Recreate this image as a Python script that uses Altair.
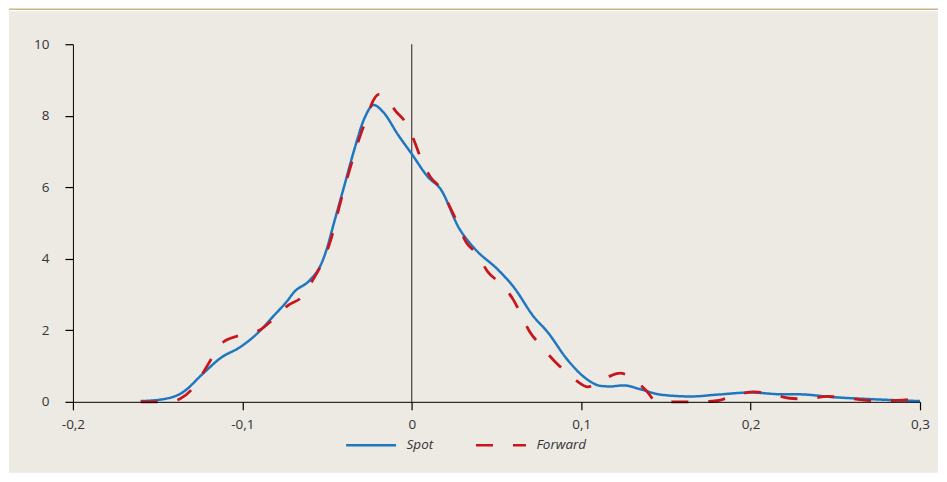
import altair as alt
import pandas as pd

# ---- data ----
series = ["Spot", "Forward"]

spot_x = [-0.160, -0.146, -0.136, -0.123, -0.113, -0.101, -0.091, -0.081, -0.073, -0.070,
          -0.060, -0.054, -0.050, -0.046, -0.040, -0.034, -0.028, -0.0225, -0.017, -0.008,
          0.0, 0.0095, 0.017, 0.028, 0.037, 0.051, 0.060, 0.072, 0.080, 0.092,
          0.104, 0.111, 0.117, 0.125, 0.135, 0.147, 0.165, 0.180, 0.200, 0.219,
          0.228, 0.249, 0.278, 0.300]
spot_y = [0.02, 0.08, 0.24, 0.80, 1.22, 1.54, 1.92, 2.43, 2.85, 3.04,
          3.41, 3.80, 4.30, 4.99, 6.01, 7.04, 7.92, 8.30, 8.11, 7.46,
          6.93, 6.29, 5.95, 4.85, 4.29, 3.69, 3.22, 2.38, 1.96, 1.17,
          0.61, 0.45, 0.43, 0.46, 0.35, 0.20, 0.15, 0.20, 0.26, 0.21,
          0.21, 0.13, 0.06, 0.02]

fwd_x = [-0.160, -0.148, -0.141, -0.137, -0.130, -0.123, -0.118, -0.111, -0.102, -0.095,
         -0.090, -0.082, -0.073, -0.065, -0.058, -0.054, -0.048, -0.042, -0.036, -0.030,
         -0.0265, -0.023, -0.0195, -0.016, -0.0095, -0.0035, 0.002, 0.005, 0.011, 0.017,
         0.023, 0.027, 0.032, 0.038, 0.045, 0.052, 0.060, 0.064, 0.070, 0.076,
         0.084, 0.091, 0.097, 0.104, 0.110, 0.117, 0.123, 0.130, 0.139, 0.144,
         0.150, 0.169, 0.180, 0.190, 0.202, 0.212, 0.223, 0.233, 0.245, 0.255,
         0.267, 0.277, 0.290, 0.299]
fwd_y = [0.0, 0.0, 0.02, 0.08, 0.34, 0.83, 1.22, 1.68, 1.85, 1.92,
         2.00, 2.30, 2.70, 2.93, 3.44, 3.78, 4.50, 5.60, 6.60, 7.50,
         7.95, 8.40, 8.60, 8.55, 8.13, 7.80, 7.23, 6.85, 6.29, 5.97,
         5.40, 5.00, 4.47, 4.16, 3.63, 3.32, 2.85, 2.49, 1.93, 1.59,
         1.15, 0.84, 0.60, 0.42, 0.56, 0.72, 0.80, 0.67, 0.28, 0.02,
         0.0, 0.0, 0.03, 0.17, 0.28, 0.22, 0.10, 0.08, 0.15, 0.12,
         0.05, 0.03, 0.05, 0.08]

x_ticks = [-0.2, -0.1, 0.0, 0.1, 0.2, 0.3]
y_ticks = [0, 2, 4, 6, 8, 10]

# ---- styling ----
BLUE = "#1f77c0"
RED = "#c8161e"
BEIGE = "#edeae4"
TAN = "#cbb48a"
FONT = "Open Sans"
W, H = 848, 358

spot_df = pd.DataFrame({"v": spot_x, "d": spot_y, "series": "Spot"})
fwd_df = pd.DataFrame({"v": fwd_x, "d": fwd_y, "series": "Forward"})

xs = alt.Scale(domain=[-0.2, 0.3], nice=False, zero=False)
ys = alt.Scale(domain=[0, 10], nice=False)

label_expr = "datum.value == 0 ? '0' : replace(toString(round(datum.value * 10) / 10), '.', ',')"

x_axis = alt.Axis(values=x_ticks, labelExpr=label_expr, title=None, grid=False,
                  tickSize=8, labelPadding=8, labelFlush=False, zindex=1)
y_axis = alt.Axis(values=y_ticks, title=None, grid=False, tickSize=8, labelPadding=16,
                  labelFlush=False, zindex=1)

leg = alt.Legend(title=None, orient="none", legendX=272, legendY=375, direction="horizontal",
                 symbolType="stroke", symbolSize=2500, symbolStrokeWidth=2.5,
                 labelFontStyle="italic", labelFontSize=13.5, labelFont=FONT,
                 labelColor="#333333", labelOffset=9, columnPadding=37)

color = alt.Color("series:N", scale=alt.Scale(domain=series, range=[BLUE, RED]), legend=leg)
dash = alt.StrokeDash("series:N", scale=alt.Scale(domain=series, range=[[1, 0], [17, 20]]), legend=leg)

one = pd.DataFrame({"a": [0]})

bg = alt.Chart(one).mark_rect(color=BEIGE).encode(
    x=alt.value(-64), x2=alt.value(W + 18), y=alt.value(-33), y2=alt.value(H + 71))
topline = alt.Chart(one).mark_rule(color=TAN, strokeWidth=1.6).encode(
    x=alt.value(-64), x2=alt.value(W + 18), y=alt.value(-35))

zero_rule = alt.Chart(pd.DataFrame({"x": [0.0]})).mark_rule(color="#222222", strokeWidth=1).encode(
    x=alt.X("x:Q", scale=xs, axis=x_axis), y=alt.value(0), y2=alt.value(H))

spot = alt.Chart(spot_df).mark_line(interpolate="monotone", strokeWidth=2.5).encode(
    x=alt.X("v:Q", scale=xs, axis=x_axis),
    y=alt.Y("d:Q", scale=ys, axis=y_axis),
    color=color, strokeDash=dash)

fwd = alt.Chart(fwd_df).mark_line(interpolate="monotone", strokeWidth=2.8).encode(
    x=alt.X("v:Q", scale=xs, axis=x_axis),
    y=alt.Y("d:Q", scale=ys, axis=y_axis),
    color=color, strokeDash=dash)

chart = alt.layer(bg, topline, zero_rule, spot, fwd).properties(
    width=W, height=H, padding=0, background="#ffffff"
).configure_view(stroke=None).configure_axis(
    domainColor="#000000", tickColor="#000000", domainWidth=1, tickWidth=1.2,
    labelFont=FONT, labelFontSize=13.5, labelColor="#333333", zindex=1
)

chart.save("out.html", embed_options={"renderer": "svg", "actions": False})
